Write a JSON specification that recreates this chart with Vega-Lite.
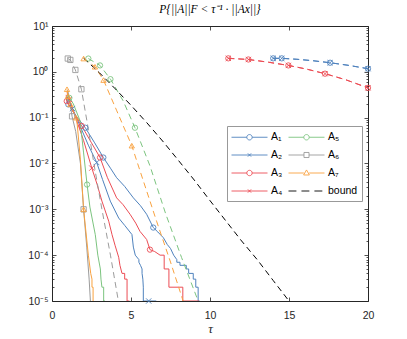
{
"$schema": "https://vega.github.io/schema/vega-lite/v6.json",
"width": 316, "height": 275,
"autosize": "none",
"padding": {"left": 52, "top": 26, "right": 39, "bottom": 38},
"config": {"view": {"stroke": "#262626", "strokeWidth": 1},
  "axis": {"domain": false, "grid": false, "labelFont": "Liberation Sans", "labelFontSize": 10.5, "labelColor": "#262626", "tickColor": "#262626", "tickWidth": 0.8, "labelFlush": false, "labelOverlap": false}},
"title": {"text": "P{||A||F < τ⁻¹ · ||Ax||}", "font": "Liberation Serif", "fontStyle": "italic", "fontSize": 11.5, "fontWeight": "normal", "color": "#000000", "offset": 6, "frame": "group", "anchor": "middle"},
"datasets": {
"lines": [
{"s":"A₁","k":"e","t":0.95,"p":0.25},{"s":"A₁","k":"e","t":1.03,"p":0.195},{"s":"A₁","k":"e","t":1.5,"p":0.112},{"s":"A₁","k":"e","t":2.11,"p":0.0603},{"s":"A₁","k":"e","t":2.7,"p":0.0282},{"s":"A₁","k":"e","t":3.25,"p":0.0135},{"s":"A₁","k":"e","t":3.7,"p":0.0079},{"s":"A₁","k":"e","t":4.09,"p":0.0049},{"s":"A₁","k":"e","t":4.6,"p":0.00316},{"s":"A₁","k":"e","t":5.15,"p":0.00178},{"s":"A₁","k":"e","t":5.6,"p":0.0012},{"s":"A₁","k":"e","t":5.99,"p":0.00078},{"s":"A₁","k":"e","t":6.41,"p":0.0004},{"s":"A₁","k":"e","t":6.7,"p":0.00032},{"s":"A₁","k":"e","t":7.05,"p":0.00024},{"s":"A₁","k":"e","t":7.3,"p":0.00017},{"s":"A₁","k":"e","t":7.5,"p":0.00014},{"s":"A₁","k":"e","t":7.7,"p":0.0001},{"s":"A₁","k":"e","t":7.9,"p":0.00008},{"s":"A₁","k":"e","t":7.9,"p":0.00007},{"s":"A₁","k":"e","t":8.1,"p":0.00007},{"s":"A₁","k":"e","t":8.1,"p":0.00006},{"s":"A₁","k":"e","t":8.5,"p":0.00006},{"s":"A₁","k":"e","t":8.5,"p":0.00005},{"s":"A₁","k":"e","t":8.65,"p":0.00005},{"s":"A₁","k":"e","t":8.65,"p":0.00004},{"s":"A₁","k":"e","t":8.94,"p":0.00004},{"s":"A₁","k":"e","t":8.94,"p":0.00003},{"s":"A₁","k":"e","t":9.1,"p":0.00003},{"s":"A₁","k":"e","t":9.1,"p":0.00002},{"s":"A₁","k":"e","t":9.25,"p":0.00002},{"s":"A₁","k":"e","t":9.25,"p":0.00001},{"s":"A₁","k":"e","t":9.35,"p":0.00001},
{"s":"A₂","k":"e","t":0.95,"p":0.282},{"s":"A₂","k":"e","t":1.3,"p":0.158},{"s":"A₂","k":"e","t":1.8,"p":0.0631},{"s":"A₂","k":"e","t":2.3,"p":0.0251},{"s":"A₂","k":"e","t":2.83,"p":0.0105},{"s":"A₂","k":"e","t":3.2,"p":0.00447},{"s":"A₂","k":"e","t":3.69,"p":0.00151},{"s":"A₂","k":"e","t":4.22,"p":0.000646},{"s":"A₂","k":"e","t":4.6,"p":0.000447},{"s":"A₂","k":"e","t":5.06,"p":0.000282},{"s":"A₂","k":"e","t":5.15,"p":0.00015},{"s":"A₂","k":"e","t":5.27,"p":0.0001},{"s":"A₂","k":"e","t":5.5,"p":0.00008},{"s":"A₂","k":"e","t":5.5,"p":0.00007},{"s":"A₂","k":"e","t":5.6,"p":0.00006},{"s":"A₂","k":"e","t":5.7,"p":0.00005},{"s":"A₂","k":"e","t":5.7,"p":0.00004},{"s":"A₂","k":"e","t":5.75,"p":0.00003},{"s":"A₂","k":"e","t":5.78,"p":0.00002},{"s":"A₂","k":"e","t":5.78,"p":0.00001},{"s":"A₂","k":"e","t":6.6,"p":0.00001},
{"s":"A₃","k":"e","t":0.9,"p":0.316},{"s":"A₃","k":"e","t":0.93,"p":0.229},{"s":"A₃","k":"e","t":1.3,"p":0.141},{"s":"A₃","k":"e","t":1.88,"p":0.0661},{"s":"A₃","k":"e","t":2.5,"p":0.0282},{"s":"A₃","k":"e","t":3.04,"p":0.0135},{"s":"A₃","k":"e","t":3.5,"p":0.005},{"s":"A₃","k":"e","t":4.09,"p":0.00178},{"s":"A₃","k":"e","t":4.5,"p":0.00126},{"s":"A₃","k":"e","t":4.94,"p":0.00078},{"s":"A₃","k":"e","t":5.3,"p":0.0005},{"s":"A₃","k":"e","t":5.57,"p":0.00033},{"s":"A₃","k":"e","t":5.99,"p":0.00022},{"s":"A₃","k":"e","t":6.2,"p":0.000132},{"s":"A₃","k":"e","t":6.5,"p":0.00012},{"s":"A₃","k":"e","t":6.84,"p":0.0001},{"s":"A₃","k":"e","t":7.1,"p":0.0001},{"s":"A₃","k":"e","t":7.1,"p":0.00005},{"s":"A₃","k":"e","t":7.4,"p":0.00005},{"s":"A₃","k":"e","t":7.4,"p":0.00002},{"s":"A₃","k":"e","t":8.28,"p":0.00002},{"s":"A₃","k":"e","t":8.28,"p":0.00001},{"s":"A₃","k":"e","t":9.3,"p":0.00001},
{"s":"A₄","k":"e","t":0.95,"p":0.355},{"s":"A₄","k":"e","t":1.4,"p":0.126},{"s":"A₄","k":"e","t":2.0,"p":0.0316},{"s":"A₄","k":"e","t":2.52,"p":0.00794},{"s":"A₄","k":"e","t":2.85,"p":0.00355},{"s":"A₄","k":"e","t":3.16,"p":0.00151},{"s":"A₄","k":"e","t":3.59,"p":0.00055},{"s":"A₄","k":"e","t":3.8,"p":0.00028},{"s":"A₄","k":"e","t":4.0,"p":0.00016},{"s":"A₄","k":"e","t":4.22,"p":0.00009},{"s":"A₄","k":"e","t":4.3,"p":0.00006},{"s":"A₄","k":"e","t":4.43,"p":0.00004},{"s":"A₄","k":"e","t":4.6,"p":0.00004},{"s":"A₄","k":"e","t":4.6,"p":0.00003},{"s":"A₄","k":"e","t":4.75,"p":0.00003},{"s":"A₄","k":"e","t":4.75,"p":0.00001},{"s":"A₄","k":"e","t":4.9,"p":0.00001},
{"s":"A₅","k":"e","t":1.0,"p":0.316},{"s":"A₅","k":"e","t":1.35,"p":0.2},{"s":"A₅","k":"e","t":1.78,"p":0.0851},{"s":"A₅","k":"e","t":2.0,"p":0.017},{"s":"A₅","k":"e","t":2.22,"p":0.00347},{"s":"A₅","k":"e","t":2.4,"p":0.00112},{"s":"A₅","k":"e","t":2.74,"p":0.00028},{"s":"A₅","k":"e","t":2.9,"p":0.0001},{"s":"A₅","k":"e","t":3.06,"p":0.00005},{"s":"A₅","k":"e","t":3.1,"p":0.00003},{"s":"A₅","k":"e","t":3.16,"p":0.00002},{"s":"A₅","k":"e","t":3.27,"p":0.00002},{"s":"A₅","k":"e","t":3.27,"p":0.00001},{"s":"A₅","k":"e","t":3.35,"p":0.00001},
{"s":"A₆","k":"e","t":1.0,"p":0.398},{"s":"A₆","k":"e","t":1.27,"p":0.107},{"s":"A₆","k":"e","t":1.5,"p":0.05},{"s":"A₆","k":"e","t":1.8,"p":0.01},{"s":"A₆","k":"e","t":2.0,"p":0.001},{"s":"A₆","k":"e","t":2.2,"p":0.00015},{"s":"A₆","k":"e","t":2.35,"p":0.00003},{"s":"A₆","k":"e","t":2.43,"p":0.00001},
{"s":"A₇","k":"e","t":0.95,"p":0.417},{"s":"A₇","k":"e","t":1.01,"p":0.295},{"s":"A₇","k":"e","t":1.16,"p":0.195},{"s":"A₇","k":"e","t":1.52,"p":0.1},{"s":"A₇","k":"e","t":1.6,"p":0.07},{"s":"A₇","k":"e","t":1.8,"p":0.012},{"s":"A₇","k":"e","t":2.0,"p":0.001},{"s":"A₇","k":"e","t":2.3,"p":0.0001},{"s":"A₇","k":"e","t":2.45,"p":0.00004},{"s":"A₇","k":"e","t":2.53,"p":0.00003},{"s":"A₇","k":"e","t":2.53,"p":0.00002},{"s":"A₇","k":"e","t":2.6,"p":0.00002},{"s":"A₇","k":"e","t":2.6,"p":0.00001},
{"s":"A₁","k":"b","t":14.0,"p":1.97},{"s":"A₁","k":"b","t":14.54,"p":1.97},{"s":"A₁","k":"b","t":15.5,"p":1.88},{"s":"A₁","k":"b","t":16.5,"p":1.75},{"s":"A₁","k":"b","t":17.6,"p":1.58},{"s":"A₁","k":"b","t":18.8,"p":1.38},{"s":"A₁","k":"b","t":20.0,"p":1.17},
{"s":"A₂","k":"b","t":14.0,"p":1.97},{"s":"A₂","k":"b","t":14.54,"p":1.97},{"s":"A₂","k":"b","t":15.5,"p":1.88},{"s":"A₂","k":"b","t":16.5,"p":1.75},{"s":"A₂","k":"b","t":17.6,"p":1.58},{"s":"A₂","k":"b","t":18.8,"p":1.38},{"s":"A₂","k":"b","t":20.0,"p":1.17},
{"s":"A₃","k":"b","t":11.16,"p":1.97},{"s":"A₃","k":"b","t":12.43,"p":1.86},{"s":"A₃","k":"b","t":13.7,"p":1.62},{"s":"A₃","k":"b","t":14.96,"p":1.38},{"s":"A₃","k":"b","t":16.1,"p":1.15},{"s":"A₃","k":"b","t":17.28,"p":0.912},{"s":"A₃","k":"b","t":18.6,"p":0.67},{"s":"A₃","k":"b","t":20.0,"p":0.447},
{"s":"A₄","k":"b","t":11.16,"p":1.97},{"s":"A₄","k":"b","t":12.43,"p":1.86},{"s":"A₄","k":"b","t":13.7,"p":1.62},{"s":"A₄","k":"b","t":14.96,"p":1.38},{"s":"A₄","k":"b","t":16.1,"p":1.15},{"s":"A₄","k":"b","t":17.28,"p":0.912},{"s":"A₄","k":"b","t":18.6,"p":0.67},{"s":"A₄","k":"b","t":20.0,"p":0.447},
{"s":"A₅","k":"b","t":2.3,"p":1.95},{"s":"A₅","k":"b","t":3.04,"p":1.38},{"s":"A₅","k":"b","t":3.7,"p":0.692},{"s":"A₅","k":"b","t":4.5,"p":0.234},{"s":"A₅","k":"b","t":5.25,"p":0.0603},{"s":"A₅","k":"b","t":6.2,"p":0.0089},{"s":"A₅","k":"b","t":7.2,"p":0.00079},{"s":"A₅","k":"b","t":8.2,"p":0.000089},{"s":"A₅","k":"b","t":9.25,"p":0.00001},
{"s":"A₆","k":"b","t":1.0,"p":1.95},{"s":"A₆","k":"b","t":1.16,"p":1.82},{"s":"A₆","k":"b","t":1.48,"p":1.1},{"s":"A₆","k":"b","t":1.86,"p":0.417},{"s":"A₆","k":"b","t":2.25,"p":0.0708},{"s":"A₆","k":"b","t":2.7,"p":0.00794},{"s":"A₆","k":"b","t":3.16,"p":0.001},{"s":"A₆","k":"b","t":3.7,"p":0.0001},{"s":"A₆","k":"b","t":4.2,"p":0.00001},
{"s":"A₇","k":"b","t":2.0,"p":1.95},{"s":"A₇","k":"b","t":2.72,"p":1.29},{"s":"A₇","k":"b","t":3.26,"p":0.661},{"s":"A₇","k":"b","t":4.1,"p":0.141},{"s":"A₇","k":"b","t":5.05,"p":0.0245},{"s":"A₇","k":"b","t":5.8,"p":0.00398},{"s":"A₇","k":"b","t":6.62,"p":0.00055},{"s":"A₇","k":"b","t":7.5,"p":0.0000708},{"s":"A₇","k":"b","t":8.3,"p":0.00001},
{"s":"bound","k":"b","t":2.0,"p":2.0},{"s":"bound","k":"b","t":3.0,"p":0.955},{"s":"bound","k":"b","t":4.0,"p":0.427},{"s":"bound","k":"b","t":5.0,"p":0.186},{"s":"bound","k":"b","t":6.0,"p":0.0776},{"s":"bound","k":"b","t":7.0,"p":0.0309},{"s":"bound","k":"b","t":8.0,"p":0.0117},{"s":"bound","k":"b","t":9.0,"p":0.00437},{"s":"bound","k":"b","t":10.0,"p":0.00155},{"s":"bound","k":"b","t":11.0,"p":0.000562},{"s":"bound","k":"b","t":12.0,"p":0.000204},{"s":"bound","k":"b","t":13.0,"p":0.000079},{"s":"bound","k":"b","t":14.0,"p":0.000028},{"s":"bound","k":"b","t":15.0,"p":0.00001}
],
"marks": [
{"s":"A₁","t":1.03,"p":0.195},{"s":"A₁","t":2.11,"p":0.0603},{"s":"A₁","t":3.25,"p":0.0135},{"s":"A₁","t":6.41,"p":0.0004},{"s":"A₁","t":14.0,"p":1.97},{"s":"A₁","t":14.54,"p":1.97},{"s":"A₁","t":17.6,"p":1.58},{"s":"A₁","t":20.0,"p":1.17},
{"s":"A₂","t":1.3,"p":0.158},{"s":"A₂","t":2.83,"p":0.0105},{"s":"A₂","t":6.12,"p":0.00001},{"s":"A₂","t":14.0,"p":1.97},{"s":"A₂","t":14.54,"p":1.97},{"s":"A₂","t":17.6,"p":1.58},{"s":"A₂","t":20.0,"p":1.17},
{"s":"A₃","t":0.93,"p":0.229},{"s":"A₃","t":1.88,"p":0.0661},{"s":"A₃","t":3.04,"p":0.0135},{"s":"A₃","t":6.2,"p":0.000132},{"s":"A₃","t":11.16,"p":1.97},{"s":"A₃","t":12.43,"p":1.86},{"s":"A₃","t":14.96,"p":1.38},{"s":"A₃","t":17.28,"p":0.912},{"s":"A₃","t":20.0,"p":0.447},
{"s":"A₄","t":1.1,"p":0.25},{"s":"A₄","t":2.52,"p":0.00794},{"s":"A₄","t":11.16,"p":1.97},{"s":"A₄","t":12.43,"p":1.86},{"s":"A₄","t":14.96,"p":1.38},{"s":"A₄","t":17.28,"p":0.912},{"s":"A₄","t":20.0,"p":0.447},
{"s":"A₅","t":1.1,"p":0.27},{"s":"A₅","t":2.22,"p":0.00347},{"s":"A₅","t":2.3,"p":1.95},{"s":"A₅","t":3.04,"p":1.38},{"s":"A₅","t":3.7,"p":0.692},{"s":"A₅","t":5.25,"p":0.0603},
{"s":"A₆","t":1.27,"p":0.107},{"s":"A₆","t":2.0,"p":0.001},{"s":"A₆","t":1.0,"p":1.95},{"s":"A₆","t":1.16,"p":1.82},{"s":"A₆","t":1.48,"p":1.1},{"s":"A₆","t":1.86,"p":0.417},
{"s":"A₇","t":0.95,"p":0.417},{"s":"A₇","t":1.01,"p":0.295},{"s":"A₇","t":1.16,"p":0.195},{"s":"A₇","t":1.52,"p":0.1},{"s":"A₇","t":2.0,"p":0.001},{"s":"A₇","t":2.0,"p":1.95},{"s":"A₇","t":2.72,"p":1.29},{"s":"A₇","t":3.26,"p":0.661},{"s":"A₇","t":5.05,"p":0.0245}
]
},
"layer": [
{
 "data": {"name": "lines"},
 "transform": [{"filter": "datum.k == 'e'"}],
 "mark": {"type": "line", "strokeWidth": 1, "clip": true},
 "encoding": {
  "x": {"field": "t", "type": "quantitative", "scale": {"domain": [0, 20], "nice": false},
        "axis": {"orient": "bottom", "values": [0, 5, 10, 15, 20], "ticks": false, "labelPadding": 9, "title": "τ", "titleFont": "Liberation Serif", "titleFontStyle": "italic", "titleFontSize": 13, "titleFontWeight": "normal", "titleColor": "#262626", "titlePadding": 2}},
  "y": {"field": "p", "type": "quantitative", "scale": {"type": "log", "domain": [0.00001, 10], "nice": false},
        "axis": {"orient": "left", "values": [0.00001, 0.0001, 0.001, 0.01, 0.1, 1, 10], "ticks": false, "labelPadding": 4, "title": null,
                 "labelExpr": "datum.value >= 10 ? '10¹' : datum.value >= 1 ? '10⁰' : datum.value >= 0.1 ? '10⁻¹' : datum.value >= 0.01 ? '10⁻²' : datum.value >= 0.001 ? '10⁻³' : datum.value >= 0.0001 ? '10⁻⁴' : '10⁻⁵'"}},
  "color": {"field": "s", "type": "nominal", "scale": {"domain": ["A₁","A₂","A₃","A₄","A₅","A₆","A₇","bound"], "range": ["#4F82BD","#4F82BD","#EC4D55","#EC4D55","#7CC47F","#9B9B9B","#F9A23F","#000000"]},
   "legend": {"orient": "none", "legendX": 175, "legendY": 100, "columns": 2, "title": null, "symbolSize": 1296, "symbolStrokeWidth": 0.9,
     "labelFont": "Liberation Sans", "labelFontSize": 10.5, "labelColor": "#000000", "labelOffset": 3, "rowPadding": 5, "columnPadding": 3, "padding": 4,
     "strokeColor": "#999999", "fillColor": "#ffffff",
     "encode": {"labels": {"update": {"y": {"value": 7}}}, "symbols": {"update": {"y": {"value": 7}, "fill": {"value": "transparent"}, "strokeDash": {"value": []}, "shape": {"signal": "indexof(['A₁','A₃','A₅'], datum.value) >= 0 ? 'M-1,0L-0.15,0M0.15,0L1,0M0.15,0A0.15,0.15 0 1,1 -0.15,0A0.15,0.15 0 1,1 0.15,0' : indexof(['A₂','A₄'], datum.value) >= 0 ? 'M-1,0L1,0M-0.09,-0.09L0.09,0.09M-0.09,0.09L0.09,-0.09' : datum.value == 'A₆' ? 'M-1,0L-0.14,0M0.14,0L1,0M-0.14,-0.14L0.14,-0.14L0.14,0.14L-0.14,0.14Z' : datum.value == 'A₇' ? 'M-1,0L-0.15,0M0.15,0L1,0M0,-0.17L0.16,0.11L-0.16,0.11Z' : 'M-1,0L-0.56,0M-0.28,0L0.16,0M0.44,0L0.88,0'"}}}}
   }
  },
  "order": [{"field": "t", "type": "quantitative"}, {"field": "p", "type": "quantitative", "sort": "descending"}]
 }
},
{
 "data": {"name": "lines"},
 "transform": [{"filter": "datum.k == 'b'"}],
 "mark": {"type": "line", "strokeWidth": 1, "strokeDash": [6, 4], "clip": true},
 "encoding": {
  "x": {"field": "t", "type": "quantitative", "axis": {"orient": "bottom", "values": [0, 5, 10, 15, 20], "labels": false, "tickSize": -4, "title": null}},
  "y": {"field": "p", "type": "quantitative", "axis": {"orient": "left", "labels": false, "title": null,
        "values": [0.00001,0.00002,0.00003,0.00004,0.00005,0.00006,0.00007,0.00008,0.00009,0.0001,0.0002,0.0003,0.0004,0.0005,0.0006,0.0007,0.0008,0.0009,0.001,0.002,0.003,0.004,0.005,0.006,0.007,0.008,0.009,0.01,0.02,0.03,0.04,0.05,0.06,0.07,0.08,0.09,0.1,0.2,0.3,0.4,0.5,0.6,0.7,0.8,0.9,1,2,3,4,5,6,7,8,9,10],
        "tickSize": {"condition": {"test": "indexof([0.00001,0.0001,0.001,0.01,0.1,1,10], datum.value) >= 0", "value": -4}, "value": -2}}},
  "color": {"field": "s", "type": "nominal"},
  "order": [{"field": "t", "type": "quantitative"}]
 }
},
{
 "data": {"name": "marks"},
 "mark": {"type": "point", "filled": false, "strokeWidth": 0.9, "size": 28, "opacity": 1},
 "encoding": {
  "x": {"field": "t", "type": "quantitative", "axis": {"orient": "top", "values": [0, 5, 10, 15, 20], "labels": false, "tickSize": -4, "title": null}},
  "y": {"field": "p", "type": "quantitative", "axis": {"orient": "right", "labels": false, "title": null,
        "values": [0.00001,0.00002,0.00003,0.00004,0.00005,0.00006,0.00007,0.00008,0.00009,0.0001,0.0002,0.0003,0.0004,0.0005,0.0006,0.0007,0.0008,0.0009,0.001,0.002,0.003,0.004,0.005,0.006,0.007,0.008,0.009,0.01,0.02,0.03,0.04,0.05,0.06,0.07,0.08,0.09,0.1,0.2,0.3,0.4,0.5,0.6,0.7,0.8,0.9,1,2,3,4,5,6,7,8,9,10],
        "tickSize": {"condition": {"test": "indexof([0.00001,0.0001,0.001,0.01,0.1,1,10], datum.value) >= 0", "value": -4}, "value": -2}}},
  "shape": {"field": "s", "type": "nominal", "scale": {"domain": ["A₇","A₆","A₅","A₄","A₃","A₂","A₁"], "range": ["triangle-up","square","circle","M-1,-1L1,1M-1,1L1,-1","circle","M-1,-1L1,1M-1,1L1,-1","circle"]}, "legend": null},
  "color": {"field": "s", "type": "nominal"}
 }
}
],
"resolve": {"axis": {"x": "independent", "y": "independent"}}
}
